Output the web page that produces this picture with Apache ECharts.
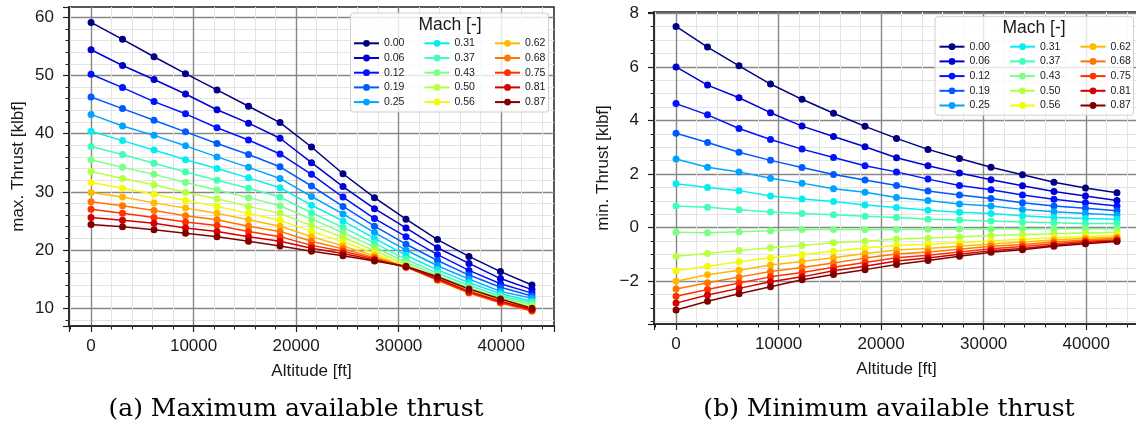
<!DOCTYPE html>
<html><head><meta charset="utf-8">
<script src="https://cdn.jsdelivr.net/npm/echarts@6/dist/echarts.min.js"></script>
<style>html,body{margin:0;padding:0;background:#fff}#c{width:1136px;height:425px}</style>
</head><body><div id="c"></div>
<script>
// ---------- data ----------
const altitude = [0, 3071, 6143, 9214, 12286, 15357, 18429, 21500, 24571, 27643, 30714, 33786, 36857, 39929, 43000];
const machLabels = ['0.00','0.06','0.12','0.19','0.25','0.31','0.37','0.43','0.50','0.56','0.62','0.68','0.75','0.81','0.87'];
const jetColors = ['#000080','#0000d2','#0012ff','#005bff','#00a4ff','#06edf1','#41ffb6','#7bff84','#b6ff43','#f1fc05','#ffb900','#ff7500','#ff3200','#d20000','#800000'];

// max. thrust [klbf]
const maxT_000 = [59.1, 56.2, 53.2, 50.3, 47.5, 44.7, 41.9, 37.7, 33.1, 29.0, 25.3, 21.8, 18.9, 16.3, 14.0];
const maxT_006 = [54.4, 51.7, 49.3, 46.8, 44.1, 41.8, 39.2, 35.0, 30.9, 27.1, 23.8, 20.4, 17.7, 15.1, 13.2];
const maxT_012 = [50.2, 47.9, 45.5, 43.4, 41.0, 38.9, 36.5, 33.0, 29.1, 25.4, 22.3, 19.2, 16.5, 14.2, 12.6];
const maxT_019 = [46.3, 44.3, 42.3, 40.3, 38.3, 36.4, 34.3, 31.0, 27.5, 24.1, 21.0, 18.2, 15.7, 13.6, 12.1];
const maxT_025 = [43.3, 41.3, 39.7, 37.9, 36.0, 34.2, 32.3, 29.2, 26.2, 23.0, 20.0, 17.3, 15.0, 12.9, 11.7];
const maxT_031 = [40.4, 38.8, 37.2, 35.5, 34.0, 32.4, 30.7, 27.7, 25.0, 22.0, 19.1, 16.6, 14.4, 12.5, 11.2];
const maxT_037 = [37.8, 36.4, 34.9, 33.4, 32.0, 30.6, 29.1, 26.4, 23.9, 21.2, 18.4, 16.0, 13.9, 12.1, 10.9];
const maxT_043 = [35.5, 34.2, 33.0, 31.6, 30.3, 29.0, 27.6, 25.3, 23.0, 20.5, 17.9, 15.6, 13.5, 11.8, 10.6];
const maxT_050 = [33.5, 32.3, 31.2, 29.9, 28.8, 27.5, 26.3, 24.2, 22.2, 19.9, 17.5, 15.3, 13.2, 11.5, 10.3];
const maxT_056 = [31.6, 30.6, 29.6, 28.5, 27.5, 26.3, 25.1, 23.2, 21.4, 19.4, 17.2, 15.1, 13.0, 11.2, 10.1];
const maxT_062 = [29.9, 29.1, 28.1, 27.2, 26.3, 25.2, 24.1, 22.3, 20.7, 19.0, 17.1, 14.9, 12.8, 11.0, 9.8];
const maxT_068 = [28.3, 27.6, 26.8, 25.9, 25.2, 24.1, 23.2, 21.5, 20.2, 18.7, 17.1, 14.8, 12.6, 10.9, 9.5];
const maxT_075 = [27.0, 26.3, 25.6, 24.8, 24.2, 23.2, 22.3, 20.8, 19.8, 18.5, 17.1, 14.9, 12.7, 11.0, 9.6];
const maxT_081 = [25.6, 25.1, 24.6, 23.8, 23.2, 22.3, 21.5, 20.3, 19.4, 18.3, 17.1, 15.1, 12.9, 11.2, 9.8];
const maxT_087 = [24.4, 24.0, 23.5, 22.9, 22.3, 21.5, 20.7, 19.8, 19.0, 18.1, 17.2, 15.4, 13.3, 11.6, 10.0];

// min. thrust [klbf]
const minT_000 = [7.51, 6.74, 6.04, 5.36, 4.79, 4.27, 3.78, 3.33, 2.92, 2.58, 2.25, 1.97, 1.69, 1.48, 1.30];
const minT_006 = [6.00, 5.32, 4.85, 4.29, 3.79, 3.40, 3.02, 2.61, 2.31, 2.04, 1.79, 1.56, 1.35, 1.18, 1.01];
const minT_012 = [4.63, 4.21, 3.70, 3.29, 2.93, 2.62, 2.31, 2.08, 1.81, 1.57, 1.41, 1.22, 1.06, 0.93, 0.81];
const minT_019 = [3.52, 3.18, 2.81, 2.51, 2.24, 1.98, 1.78, 1.57, 1.37, 1.22, 1.09, 0.93, 0.81, 0.72, 0.63];
const minT_025 = [2.56, 2.25, 2.08, 1.84, 1.66, 1.45, 1.32, 1.12, 1.01, 0.88, 0.81, 0.68, 0.59, 0.53, 0.47];
const minT_031 = [1.64, 1.50, 1.38, 1.18, 1.07, 0.97, 0.84, 0.75, 0.65, 0.57, 0.53, 0.44, 0.38, 0.34, 0.31];
const minT_037 = [0.81, 0.76, 0.67, 0.58, 0.53, 0.48, 0.42, 0.38, 0.31, 0.28, 0.25, 0.21, 0.18, 0.15, 0.15];
const minT_043 = [-0.17, -0.19, -0.16, -0.12, -0.07, -0.07, -0.07, -0.07, -0.06, -0.05, -0.05, -0.04, -0.04, -0.04, -0.04];
const minT_050 = [-1.07, -0.97, -0.86, -0.75, -0.67, -0.57, -0.51, -0.43, -0.39, -0.35, -0.30, -0.26, -0.23, -0.20, -0.18];
const minT_056 = [-1.61, -1.44, -1.28, -1.13, -1.01, -0.88, -0.76, -0.67, -0.62, -0.57, -0.50, -0.44, -0.38, -0.33, -0.29];
const minT_062 = [-2.00, -1.76, -1.59, -1.40, -1.27, -1.13, -0.97, -0.84, -0.78, -0.70, -0.61, -0.54, -0.46, -0.40, -0.35];
const minT_068 = [-2.29, -2.06, -1.85, -1.64, -1.49, -1.32, -1.14, -0.99, -0.91, -0.81, -0.70, -0.63, -0.54, -0.46, -0.40];
const minT_075 = [-2.56, -2.31, -2.07, -1.84, -1.68, -1.48, -1.30, -1.13, -1.03, -0.91, -0.79, -0.71, -0.60, -0.51, -0.45];
const minT_081 = [-2.82, -2.52, -2.27, -2.02, -1.84, -1.61, -1.44, -1.25, -1.14, -1.00, -0.86, -0.78, -0.66, -0.56, -0.49];
const minT_087 = [-3.08, -2.75, -2.47, -2.21, -1.95, -1.75, -1.57, -1.38, -1.23, -1.07, -0.92, -0.83, -0.70, -0.60, -0.52];

const maxSeries = [maxT_000,maxT_006,maxT_012,maxT_019,maxT_025,maxT_031,maxT_037,maxT_043,maxT_050,maxT_056,maxT_062,maxT_068,maxT_075,maxT_081,maxT_087];
const minSeries = [minT_000,minT_006,minT_012,minT_019,minT_025,minT_031,minT_037,minT_043,minT_050,minT_056,minT_062,minT_068,minT_075,minT_081,minT_087];

// ---------- style ----------
const FONT = 'Liberation Sans, Arial, Helvetica, sans-serif';
const TXT = '#1a1a1a';
const fmt = v => (v < 0 ? '\u2212' + String(Math.abs(v)) : String(v));

function xAxis(gridIndex) {
  return {
    type: 'value', gridIndex, min: -2150, max: 45150,
    name: 'Altitude [ft]', nameLocation: 'middle', nameGap: 37,
    nameTextStyle: { fontFamily: FONT, fontSize: 17, color: TXT },
    axisLine: { show: true, onZero: false, lineStyle: { color: '#222', width: 1.5 } },
    axisTick: { show: true, length: 6, lineStyle: { color: '#222', width: 1.2 } },
    minorTick: { show: true, splitNumber: 5, length: 3.5, lineStyle: { color: '#222', width: 1 } },
    axisLabel: { show: true, margin: 12, fontFamily: FONT, fontSize: 17, color: TXT, formatter: fmt, showMinLabel: false, showMaxLabel: false },
    splitLine: { show: true, showMinLine: false, showMaxLine: false, lineStyle: { color: '#878787', width: 1.4 } },
    minorSplitLine: { show: true, lineStyle: { color: '#e4e4e4', width: 1 } }
  };
}
function yAxis(gridIndex, name, min, max, minorSplit) {
  return {
    type: 'value', gridIndex, min, max,
    name, nameLocation: 'middle', nameGap: 42, nameRotate: 90,
    nameTextStyle: { fontFamily: FONT, fontSize: 17, color: TXT },
    axisLine: { show: true, onZero: false, lineStyle: { color: '#222', width: 1.5 } },
    axisTick: { show: true, length: 6, lineStyle: { color: '#222', width: 1.2 } },
    minorTick: { show: true, splitNumber: minorSplit, length: 3.5, lineStyle: { color: '#222', width: 1 } },
    axisLabel: { show: true, margin: 15, fontFamily: FONT, fontSize: 17, color: TXT, formatter: fmt, showMinLabel: false, showMaxLabel: false },
    splitLine: { show: true, showMinLine: false, showMaxLine: false, lineStyle: { color: '#878787', width: 1.4 } },
    minorSplitLine: { show: true, lineStyle: { color: '#e4e4e4', width: 1 } }
  };
}

const series = [];
function addPanel(list, idx) {
  list.forEach((vals, i) => {
    series.push({
      type: 'line', name: machLabels[i], xAxisIndex: idx, yAxisIndex: idx,
      data: altitude.map((a, k) => [a, vals[k]]),
      symbol: 'circle', symbolSize: 7, showSymbol: true,
      lineStyle: { color: jetColors[i], width: 1.5 },
      itemStyle: { color: jetColors[i], borderWidth: 0 },
      emphasis: { disabled: true }, silent: true, z: 2
    });
  });
}
addPanel(maxSeries, 0);
addPanel(minSeries, 1);

function legendCol(left, top, names) {
  return {
    show: true, orient: 'vertical', left, top, padding: 0,
    itemWidth: 25, itemHeight: 8.5, itemGap: 2.7,
    data: names, selectedMode: false, z: 6,
    textStyle: { fontFamily: FONT, fontSize: 10.5, color: TXT, lineHeight: 12 },
    lineStyle: { width: 2 }
  };
}
const legends = [];
[[353, 37.3], [938.5, 40.7]].forEach(([lx, ty]) => {
  legends.push(legendCol(lx, ty, machLabels.slice(0, 5)));
  legends.push(legendCol(lx + 70.5, ty, machLabels.slice(5, 10)));
  legends.push(legendCol(lx + 141, ty, machLabels.slice(10, 15)));
});

const option = {
  animation: false,
  backgroundColor: '#fff',
  grid: [
    { left: 69, top: 7, width: 485, height: 319, show: true, borderColor: '#222', borderWidth: 1.5, backgroundColor: 'transparent', containLabel: false, outerBoundsMode: 'none' },
    { left: 654, top: 12, width: 485, height: 312, show: true, borderColor: '#222', borderWidth: 1.5, backgroundColor: 'transparent', containLabel: false, outerBoundsMode: 'none' }
  ],
  xAxis: [xAxis(0), xAxis(1)],
  yAxis: [yAxis(0, 'max. Thrust [klbf]', 6.95, 61.75, 5), yAxis(1, 'min. Thrust [klbf]', -3.6, 8.05, 4)],
  legend: legends,
  tooltip: { show: false },
  series,
  graphic: [
    { type: 'rect', z: 5, shape: { x: 350.5, y: 13, width: 198, height: 99, r: 3 }, style: { fill: 'rgba(255,255,255,0.8)', stroke: '#cfcfcf', lineWidth: 1 } },
    { type: 'rect', z: 5, shape: { x: 935, y: 16.7, width: 198.5, height: 98.5, r: 3 }, style: { fill: 'rgba(255,255,255,0.8)', stroke: '#cfcfcf', lineWidth: 1 } },
    { type: 'text', z: 7, x: 450, y: 25, style: { text: 'Mach [-]', fill: TXT, font: '17.5px ' + FONT, textAlign: 'center', textVerticalAlign: 'middle' } },
    { type: 'text', z: 7, x: 1034, y: 28.3, style: { text: 'Mach [-]', fill: TXT, font: '17.5px ' + FONT, textAlign: 'center', textVerticalAlign: 'middle' } },
    { type: 'text', z: 7, x: 296, y: 409.5, style: { text: '(a) Maximum available thrust', fill: '#000', font: '25px "DejaVu Serif", serif', textAlign: 'center', textVerticalAlign: 'middle' } },
    { type: 'text', z: 7, x: 889, y: 409.5, style: { text: '(b) Minimum available thrust', fill: '#000', font: '25px "DejaVu Serif", serif', textAlign: 'center', textVerticalAlign: 'middle' } }
  ]
};
const chart = echarts.init(document.getElementById('c'), null, { renderer: 'canvas' });
chart.setOption(option);
</script></body></html>
